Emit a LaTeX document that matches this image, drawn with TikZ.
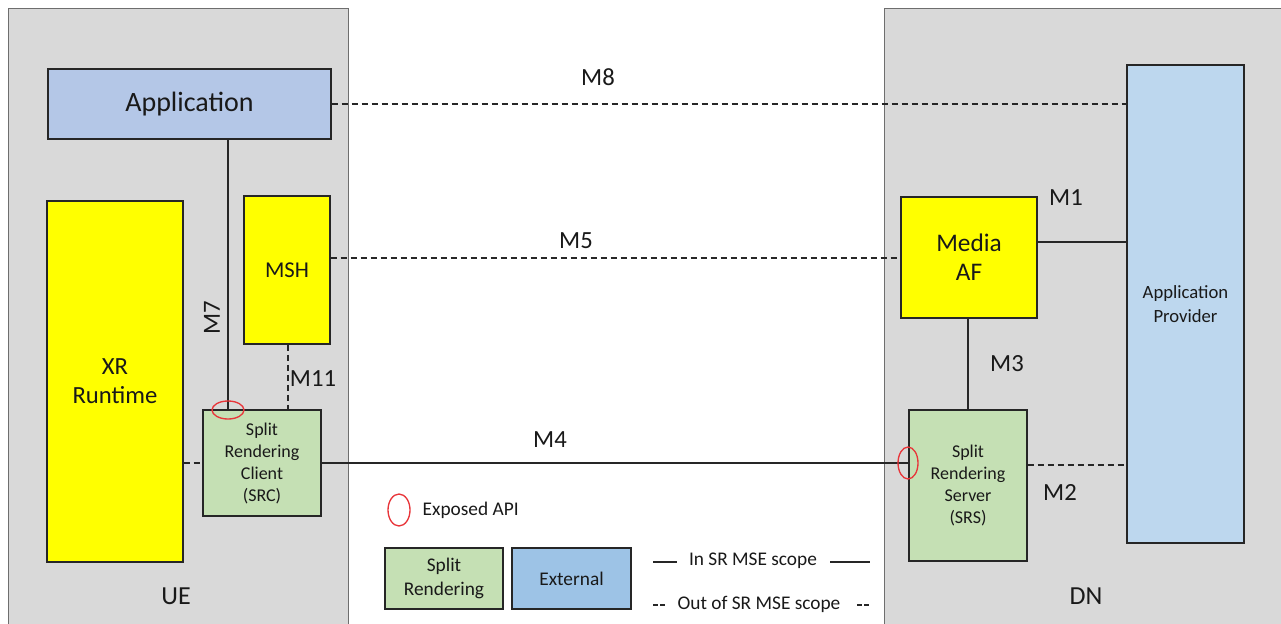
\documentclass[tikz,border=0pt]{standalone}
\usepackage{fontspec}
\setmainfont{Carlito}
\usetikzlibrary{shapes.geometric}
\definecolor{zone}{HTML}{D9D9D9}
\definecolor{zoneline}{HTML}{6E6E6E}
\definecolor{appblue}{HTML}{B4C7E7}
\definecolor{provblue}{HTML}{BDD7EE}
\definecolor{extblue}{HTML}{9DC3E6}
\definecolor{srgreen}{HTML}{C5E0B4}
\definecolor{xryellow}{HTML}{FFFF00}
\definecolor{apired}{HTML}{E8353A}
\tikzset{
  sz/.style 2 args={minimum width=#1*0.75pt, minimum height=#2*0.75pt},
  zonebox/.style={draw=zoneline, fill=zone, line width=1pt, inner sep=0pt},
  blk/.style={draw=black!85, line width=1pt, inner sep=0pt, align=center, text=black!90},
  conn/.style={line width=1.3pt, black!85},
  oconn/.style={conn, dash pattern=on 4.5pt off 3pt},
  api/.style={ellipse, draw=apired, line width=1pt, inner sep=0pt},
  lbl/.style={font=\fontsize{18.5}{20}\selectfont, text=black!90},
  legtext/.style={font=\fontsize{14.5}{17}\selectfont, text=black!90},
}
\begin{document}
\begin{tikzpicture}[x=0.75pt, y=-0.75pt]
\useasboundingbox (0,0) rectangle (1281,624);
\fill[white] (0,0) rectangle (1281,624);
% zones
\node[zonebox, sz={340}{640}, anchor=north west] (ue) at (8,8) {};
\node[zonebox, sz={400}{640}, anchor=north west] (dn) at (884,8) {};
\node[lbl, font=\fontsize{19.5}{21}\selectfont] (uelbl) at (176,596) {UE};
\node[lbl, font=\fontsize{19.5}{21}\selectfont] (dnlbl) at (1086,596) {DN};
% UE blocks
\node[blk, fill=appblue, sz={283}{70}, font=\fontsize{21}{23}\selectfont] (app) at (189.5,104) {Application};
\node[blk, fill=xryellow, sz={136}{361}, font=\fontsize{18.5}{22}\selectfont] (xr) at (115,381.5) {XR\\Runtime};
\node[blk, fill=xryellow, sz={86}{148}, font=\fontsize{17}{20}\selectfont] (msh) at (287,270) {MSH};
\node[blk, fill=srgreen, sz={118}{106}, font=\fontsize{13.5}{16.5}\selectfont] (src) at (262,463) {Split\\Rendering\\Client\\(SRC)};
% DN blocks
\node[blk, fill=xryellow, sz={136}{121}, font=\fontsize{19}{22}\selectfont] (maf) at (969,257.5) {Media\\AF};
\node[blk, fill=srgreen, sz={118}{151}, font=\fontsize{13.5}{16.5}\selectfont] (srs) at (968,485.5) {Split\\Rendering\\Server\\(SRS)};
\node[blk, fill=provblue, sz={117}{478}, font=\fontsize{14}{18}\selectfont] (prov) at (1185.5,304) {Application\\Provider};
% helper coordinates
\coordinate (m7x) at (228,0);
\coordinate (m11x) at (288,0);
\coordinate (m3x) at (968,0);
\coordinate (m4y) at (0,463);
\coordinate (m8y) at (0,104);
\coordinate (m5y) at (0,258);
\coordinate (m1y) at (0,242);
\coordinate (m2y) at (0,465);
% connectors
\draw[conn] (app.south -| m7x) -- (src.north -| m7x);
\draw[oconn] (msh.south -| m11x) -- (src.north -| m11x);
\draw[oconn] (xr.east |- m4y) -- (src.west |- m4y);
\draw[conn] (src.east |- m4y) -- (srs.west |- m4y);
\draw[oconn] (app.east |- m8y) -- (prov.west |- m8y);
\draw[oconn] (msh.east |- m5y) -- (maf.west |- m5y);
\draw[conn] (maf.east |- m1y) -- (prov.west |- m1y);
\draw[conn] (maf.south -| m3x) -- (srs.north -| m3x);
\draw[oconn] (srs.east |- m2y) -- (prov.west |- m2y);
% labels
\node[lbl, rotate=90] (m7) at (212,318) {M7};
\node[lbl] (m11) at (313,379) {M11};
\node[lbl] (m4) at (550,440) {M4};
\node[lbl] (m8) at (598,77) {M8};
\node[lbl] (m5) at (576,241) {M5};
\node[lbl] (m1) at (1066,198) {M1};
\node[lbl] (m3) at (1007,364) {M3};
\node[lbl] (m2) at (1060,492) {M2};
% exposed API marks
\node[api, sz={32}{18}] (api1) at (228,410) {};
\node[api, sz={20}{32}] (api2) at (908,463) {};
% legend
\node[api, sz={22}{32}] (lapi) at (399,510) {};
\node[legtext, anchor=west] (lapit) at (418,510) {Exposed API};
\node[blk, fill=srgreen, sz={118}{61}, font=\fontsize{14.5}{17.5}\selectfont] (lsr) at (444,578.5) {Split\\Rendering};
\node[blk, fill=extblue, sz={119}{61}, font=\fontsize{14.5}{17}\selectfont] (lext) at (571.5,578.5) {External};
\node[legtext] (lin) at (753,561) {In SR MSE scope};
\node[legtext] (lout) at (759,604) {Out of SR MSE scope};
\coordinate (lin1a) at (653,562); \coordinate (lin1b) at (677,562);
\coordinate (lin2a) at (830,562); \coordinate (lin2b) at (870,562);
\draw[line width=1.3pt, black!85] (lin1a) -- (lin1b);
\draw[line width=1.3pt, black!85] (lin2a) -- (lin2b);
\coordinate (lo1a) at (653,605); \coordinate (lo1b) at (667,605);
\coordinate (lo2a) at (857,605); \coordinate (lo2b) at (871,605);
\draw[line width=1.3pt, black!85, dash pattern=on 3.6pt off 1.8pt] (lo1a) -- (lo1b);
\draw[line width=1.3pt, black!85, dash pattern=on 3.6pt off 1.8pt] (lo2a) -- (lo2b);
\end{tikzpicture}
\end{document}
